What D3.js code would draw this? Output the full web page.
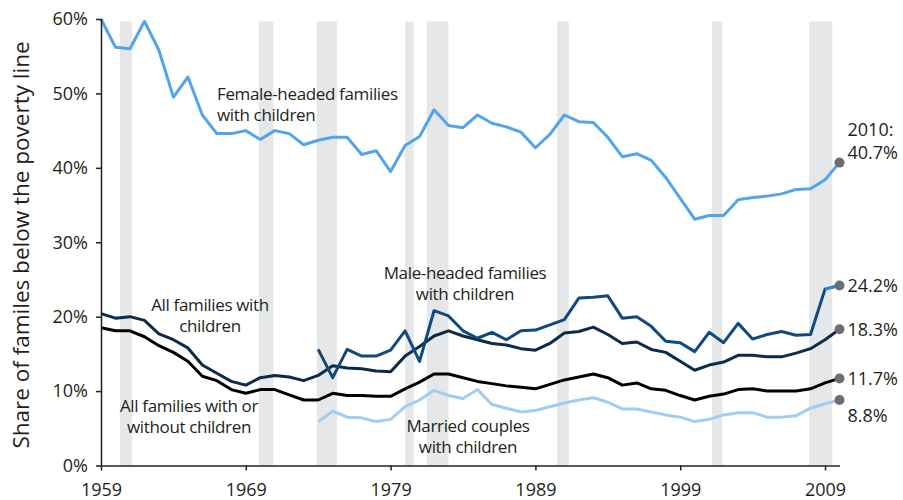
<!DOCTYPE html>
<html><head><meta charset="utf-8">
<script src="https://cdn.jsdelivr.net/npm/d3@7"></script>
<style>
body{margin:0;background:#fff;}
svg text{font-family:"Open Sans",sans-serif;fill:#231f20;}
</style></head>
<body><svg id="c" width="903" height="500"></svg>
<script>
const years = d3.range(1959, 2011);
const yearsShort = d3.range(1974, 2011);
const femaleHeaded = [60.0,56.2,56.0,59.7,55.8,49.5,52.2,47.1,44.6,44.6,45.0,43.8,45.0,44.6,43.1,43.7,44.1,44.1,41.8,42.3,39.5,43.0,44.2,47.8,45.7,45.4,47.1,46.0,45.5,44.8,42.7,44.5,47.1,46.2,46.1,44.1,41.5,41.9,41.0,38.7,35.9,33.1,33.6,33.6,35.7,36.0,36.2,36.5,37.1,37.2,38.4,40.7];
const allWithChildren = [20.4,19.8,20.0,19.5,17.7,16.9,15.8,13.5,12.4,11.3,10.8,11.8,12.1,11.9,11.4,12.1,13.4,13.1,13.0,12.7,12.6,14.7,16.0,17.4,18.1,17.4,16.9,16.4,16.2,15.7,15.5,16.4,17.8,18.0,18.6,17.6,16.4,16.6,15.6,15.2,14.0,12.8,13.5,13.9,14.8,14.8,14.6,14.6,15.1,15.7,16.9,18.3];
const allFamilies = [18.5,18.1,18.1,17.3,16.1,15.2,14.0,12.0,11.4,10.2,9.7,10.2,10.2,9.5,8.8,8.8,9.7,9.4,9.4,9.3,9.3,10.3,11.2,12.3,12.3,11.8,11.3,11.0,10.7,10.5,10.3,10.9,11.5,11.9,12.3,11.8,10.8,11.1,10.3,10.1,9.4,8.8,9.3,9.6,10.2,10.3,10.0,10.0,10.0,10.3,11.1,11.7];
const maleHeaded = [15.6,11.8,15.6,14.7,14.7,15.5,18.1,14.0,20.8,20.1,18.1,17.1,17.9,16.9,18.1,18.2,18.9,19.6,22.5,22.6,22.8,19.8,20.0,18.7,16.7,16.5,15.3,17.9,16.5,19.1,17.0,17.6,18.0,17.5,17.6,23.7,24.2];
const marriedCouples = [5.9,7.3,6.5,6.4,5.9,6.2,7.9,8.8,10.1,9.4,9.0,10.2,8.2,7.7,7.2,7.4,7.9,8.4,8.8,9.1,8.5,7.6,7.6,7.2,6.8,6.5,5.9,6.2,6.8,7.1,7.1,6.5,6.5,6.7,7.7,8.3,8.8];
const recessions = [[1960.3,1961.15],[1969.9,1970.9],[1973.9,1975.3],[1980.0,1980.6],[1981.5,1983.0],[1990.5,1991.3],[2001.2,2001.9],[2007.9,2009.5]];
const xTicks = [1959,1969,1979,1989,1999,2009];
const yTicks = [0,10,20,30,40,50,60];
const endLabels = [
  {v:40.7, lines:["2010:","40.7%"]},
  {v:24.2, lines:["24.2%"]},
  {v:18.3, lines:["18.3%"]},
  {v:11.7, lines:["11.7%"]},
  {v:8.8, lines:["8.8%"]}
];

const svg = d3.select("#c");
const x = d3.scaleLinear().domain([1959, 2010]).range([101, 839.5]);
const y = d3.scaleLinear().domain([0, 60]).range([465.5, 19]);

// recession bands
svg.append("g").selectAll("rect").data(recessions).join("rect")
  .attr("x", d => x(d[0])).attr("width", d => x(d[1]) - x(d[0]))
  .attr("y", 21.5).attr("height", y(0) - 21.5)
  .attr("fill", "#e6e7e8");

const line = d3.line().x(d => x(d[0])).y(d => y(d[1]));
function series(yrs, vals){ return yrs.map((yr,i)=>[yr, vals[i]]); }

const lines = [
  {data: series(yearsShort, marriedCouples), color:"#9fcdf4"},
  {data: series(years, allFamilies), color:"#000000"},
  {data: series(years, allWithChildren), color:"#0b2b4a"},
  {data: series(yearsShort, maleHeaded), color:"#0f497d"},
  {data: series(years, femaleHeaded), color:"#52a5ec"}
];
svg.append("g").selectAll("path").data(lines).join("path")
  .attr("d", d => line(d.data)).attr("fill","none")
  .attr("stroke", d => d.color).attr("stroke-width", 3)
  .attr("stroke-linejoin","round");
// last male segment highlighted
svg.append("path").attr("d", line(series(yearsShort, maleHeaded).slice(-2)))
  .attr("fill","none").attr("stroke","#2a8ae0").attr("stroke-width",3);

// axes
const yAxis = d3.axisLeft(y).tickValues(yTicks).tickFormat(d => d + "%").tickSize(5).tickPadding(8);
const gy = svg.append("g").attr("transform", `translate(${x(1959)},0)`).call(yAxis);
const xAxis = d3.axisBottom(x).tickValues(xTicks).tickFormat(d3.format("d")).tickSize(5).tickPadding(13);
const gx = svg.append("g").attr("transform", `translate(0,${y(0)})`).call(xAxis);
[gx, gy].forEach(g => {
  g.select(".domain").attr("stroke","#231f20").attr("stroke-width",1.5);
  g.selectAll(".tick line").attr("stroke","#231f20").attr("stroke-width",1.5);
  g.selectAll("text").attr("font-size", 18).attr("fill","#231f20").style("font-family","'Open Sans',sans-serif");
});
gx.select(".domain").attr("d", `M${x(1959)},0.5H840`);
gy.select(".domain").attr("d", `M0.5,${y(60)}V${y(0)}`);

// end dots
svg.append("g").selectAll("circle").data(endLabels).join("circle")
  .attr("cx", x(2010)).attr("cy", d => y(d.v)).attr("r", 5).attr("fill","#6d6e71");

// end labels
const endOffsets = [[-26.5, -4], [6.5], [6.5], [6.5], [21.5]];
endLabels.forEach((d,i) => {
  const t = svg.append("text").attr("x", x(2010) + 8).attr("font-size", 18);
  d.lines.forEach((l,j) => t.append("tspan").attr("x", x(2010) + 8)
     .attr("y", y(d.v) + endOffsets[i][j]).text(l));
});

// annotations
const notes = [
  {x:217, y:100, anchor:"start", lines:["Female-headed families","with children"]},
  {x:465, y:279, anchor:"middle", lines:["Male-headed families","with children"]},
  {x:210, y:311, anchor:"middle", lines:["All families with","children"]},
  {x:189, y:412, anchor:"middle", lines:["All families with or","without children"]},
  {x:468, y:432, anchor:"middle", lines:["Married couples","with children"]}
];
notes.forEach(n => {
  const t = svg.append("text").attr("font-size", 17).attr("letter-spacing", -0.35)
    .attr("text-anchor", n.anchor);
  n.lines.forEach((l,j) => t.append("tspan").attr("x", n.x).attr("y", n.y + j*21).text(l));
});

// y title
svg.append("text").attr("transform","translate(29,245) rotate(-90)")
  .attr("text-anchor","middle").attr("font-size", 22.5)
  .text("Share of familes below the poverty line");
</script></body></html>
